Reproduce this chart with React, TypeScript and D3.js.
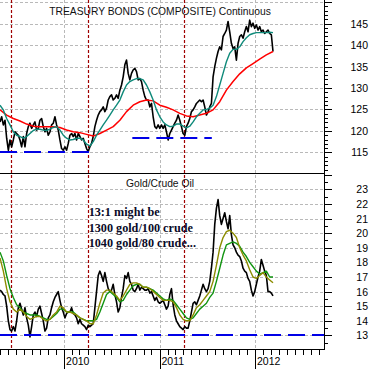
import * as d3 from 'd3';
import React, { useEffect, useRef } from 'react';

// readings, evenly spaced between these two dates
const sampleStart = '2009-05-01';
const sampleEnd = '2012-03-10';
const axisStart = '2009-05-01';
const axisEnd = '2012-09-21';

// treasury bonds (composite) continuous
const bondPrice = [
	122.1, 123.3, 121.4, 122.5, 118.3, 115.5, 117.9, 116.3, 117.9, 119.8,
	119.4, 119.0, 117.9, 116.3, 118.7, 116.3, 119.4, 121.0, 121.8, 120.6,
	121.4, 122.1, 120.2, 120.6, 122.5, 122.9, 121.0, 119.8, 120.6, 119.0,
	119.8, 121.4, 121.8, 123.3, 121.4, 120.2, 117.9, 115.9, 115.5, 116.3,
	115.5, 117.1, 119.0, 119.4, 118.7, 119.4, 117.9, 119.4, 118.7, 117.9,
	118.3, 117.1, 115.9, 115.2, 116.3, 117.1, 118.7, 121.0, 122.5, 123.7,
	124.5, 124.9, 125.6, 124.5, 125.3, 127.2, 128.0, 128.4, 127.2, 127.6,
	128.4, 127.6, 129.5, 130.7, 132.6, 135.4, 136.5, 133.4, 131.9, 133.4,
	134.2, 134.6, 133.8, 131.9, 132.2, 131.5, 129.5, 128.0, 127.2, 127.2,
	125.6, 126.4, 123.3, 121.0, 120.6, 121.4, 120.6, 121.4, 120.6, 121.4,
	119.8, 117.9, 119.4, 120.2, 121.0, 121.8, 122.5, 123.7, 122.5, 121.0,
	119.4, 119.0, 121.0, 121.8, 122.9, 124.5, 124.9, 125.6, 126.4, 126.8,
	127.2, 126.8, 127.2, 125.6, 123.7, 124.5, 125.6, 126.4, 132.6, 135.0,
	136.9, 138.5, 139.6, 138.9, 142.0, 142.7, 143.5, 145.5, 143.1, 140.4,
	139.2, 139.6, 136.5, 140.4, 142.0, 142.4, 141.6, 143.1, 144.3, 143.1,
	145.8, 144.3, 145.1, 143.9, 144.7, 143.5, 144.3, 143.1, 143.5, 142.7,
	143.1, 143.5, 142.7, 142.4, 138.5
];
const bondFastMa = [
	126.0, 124.9, 122.9, 121.4, 119.8, 119.0, 118.7, 118.3, 118.7, 119.4,
	120.1, 120.4, 120.4, 120.2, 120.1, 120.4, 120.8, 121.0, 120.2, 119.0,
	118.3, 117.9, 118.0, 118.3, 118.3, 117.9, 116.9, 116.5, 117.5, 119.0,
	120.2, 121.4, 122.5, 123.7, 124.9, 126.0, 127.2, 129.1, 130.7, 131.5,
	131.9, 132.2, 132.2, 131.9, 130.7, 129.1, 127.2, 124.9, 123.3, 122.1,
	121.4, 121.0, 121.1, 121.6, 121.6, 121.1, 120.7, 121.1, 122.1, 123.3,
	124.1, 124.9, 125.0, 125.3, 126.0, 128.0, 130.7, 133.4, 136.1, 138.1,
	139.0, 139.0, 139.6, 140.8, 141.7, 142.4, 142.7, 142.9, 142.9, 142.9,
	142.9, 143.0, 142.9
];
const bondSlowMa = [
	124.9, 123.7, 122.9, 122.3, 121.6, 121.1, 121.0, 121.0, 121.0, 120.8,
	120.2, 119.8, 119.6, 119.2, 118.8, 119.4, 120.2, 121.0, 122.5, 124.5,
	126.0, 126.8, 127.2, 127.0, 126.0, 125.5, 124.9, 124.1, 123.5, 123.3,
	123.7, 124.1, 124.9, 126.8, 129.5, 131.5, 133.3, 134.7, 135.7, 136.7,
	137.7, 138.5
];

// gold / crude oil ratio
const ratio = [
	16.1, 16.0, 15.8, 15.7, 15.0, 14.0, 13.4, 13.3, 13.6, 13.3,
	14.0, 14.9, 15.2, 14.8, 14.4, 14.9, 14.2, 13.7, 12.9, 13.6,
	14.4, 14.6, 14.3, 14.8, 15.0, 14.5, 14.0, 13.3, 13.5, 14.2,
	14.4, 14.9, 15.3, 15.6, 15.8, 16.0, 15.4, 14.9, 14.6, 14.2,
	14.5, 14.6, 14.6, 14.9, 14.5, 14.4, 14.2, 13.8, 14.1, 13.8,
	13.7, 13.6, 13.4, 13.7, 13.6, 13.7, 13.8, 14.9, 16.0, 17.1,
	17.4, 17.1, 16.7, 17.3, 16.7, 16.2, 16.0, 16.1, 16.5, 15.8,
	15.3, 14.6, 14.9, 15.6, 16.2, 17.1, 16.9, 17.3, 16.7, 16.5,
	16.1, 16.0, 16.2, 16.5, 16.1, 16.3, 16.2, 16.1, 16.1, 16.2,
	15.9, 16.0, 15.7, 15.4, 15.6, 15.3, 15.2, 15.3, 15.4, 15.1,
	14.8, 15.0, 15.8, 16.2, 15.1, 14.4, 14.0, 13.8, 13.6, 13.5,
	13.4, 13.6, 13.5, 13.5, 14.0, 14.6, 15.2, 15.3, 15.1, 15.4,
	15.7, 16.1, 16.5, 16.2, 16.0, 16.2, 16.7, 17.6, 18.7, 20.6,
	21.7, 22.3, 21.2, 20.6, 21.0, 21.4, 20.8, 20.3, 21.2, 19.9,
	19.2, 19.0, 18.7, 18.5, 18.4, 18.1, 17.6, 17.4, 17.3, 16.9,
	16.7, 16.1, 15.7, 16.0, 16.5, 17.0, 17.4, 18.2, 17.8, 17.4,
	17.1, 16.0, 16.0, 15.9, 15.7
];
const ratioFastMa = [
	18.3, 17.4, 16.2, 15.3, 14.8, 14.6, 14.8, 14.6, 14.3, 14.1,
	14.2, 14.3, 14.3, 14.1, 14.0, 14.1, 14.4, 14.6, 15.0, 14.9,
	14.6, 14.6, 14.5, 14.4, 14.2, 14.1, 14.0, 13.8, 13.8, 14.4,
	15.2, 15.9, 16.1, 16.1, 15.9, 15.7, 15.4, 15.7, 16.1, 16.5,
	16.6, 16.6, 16.5, 16.3, 16.3, 16.2, 16.0, 15.8, 15.6, 15.4,
	15.4, 15.4, 15.3, 14.9, 14.4, 14.1, 14.0, 14.0, 14.4, 14.9,
	15.1, 15.4, 15.7, 16.0, 16.7, 17.8, 19.0, 19.7, 20.1, 20.2,
	20.0, 19.7, 19.0, 18.5, 18.1, 17.5, 17.0, 16.9, 17.1, 17.3,
	17.0, 16.8, 16.6
];
const ratioSlowMa = [
	18.7, 18.1, 17.1, 16.2, 15.6, 15.1, 14.9, 14.6, 14.5, 14.4,
	14.4, 14.4, 14.3, 14.2, 14.1, 14.1, 14.3, 14.5, 14.8, 14.8,
	14.6, 14.6, 14.6, 14.4, 14.2, 14.1, 14.0, 14.0, 14.0, 14.1,
	14.6, 15.2, 15.8, 16.0, 15.8, 15.6, 15.3, 15.4, 15.8, 16.1,
	16.4, 16.5, 16.5, 16.3, 16.3, 16.2, 16.1, 15.9, 15.7, 15.5,
	15.4, 15.5, 15.4, 15.1, 14.8, 14.5, 14.2, 14.1, 14.2, 14.5,
	14.8, 15.0, 15.2, 15.6, 15.9, 16.7, 17.6, 18.5, 19.2, 19.3,
	19.4, 19.3, 19.1, 18.7, 18.4, 18.0, 17.7, 17.4, 17.2, 17.3,
	17.4, 17.0, 17.0
];

// axis labels
const bondLabels = [115, 120, 125, 130, 135, 140, 145];
const ratioLabels = [13, 14, 15, 16, 17, 18, 19, 20, 21, 22, 23];
const yearLabels = ['2010', '2011', '2012'];

// annotations
const markerDates = ['2009-06-11', '2010-04-03', '2011-04-05'];
const bondSupports = [
	{ value: 115, from: '2009-05-01', to: '2010-04-23' },
	{ value: 118.3, from: '2010-09-19', to: '2011-07-20' }
];
const ratioSupports = [{ value: 13, from: '2009-05-01', to: '2012-09-21' }];
const noteLines = ['13:1 might be', '1300 gold/100 crude', '1040 gold/80 crude...'];

const parse = d3.timeParse('%Y-%m-%d');

const App = () => {
	const ref = useRef<SVGSVGElement>(null);

	useEffect(() => {
		const svg = d3.select(ref.current);
		svg.selectAll('*').remove();

		const W = 324;
		const sans = '"Liberation Sans", Arial, sans-serif';

		const x = d3.scaleTime()
			.domain([parse(axisStart), parse(axisEnd)])
			.range([0, W]);
		const yBond = d3.scaleLinear().domain([110.2, 150.5]).range([173, 0]);
		const yRatio = d3.scaleLinear().domain([12.07, 24.05]).range([349, 174]);

		const t0 = +parse(sampleStart);
		const t1 = +parse(sampleEnd);
		const sampled = (values: number[]) => values.map((v, i) => ({
			date: new Date(t0 + (t1 - t0) * i / (values.length - 1)),
			value: v
		}));

		// grid
		const grid = svg.append('g')
			.attr('stroke', '#b9b9b9')
			.attr('stroke-dasharray', '3,2')
			.attr('stroke-width', 1);
		grid.selectAll('.hb')
			.data(d3.range(115, 151, 5))
			.join('line')
			.attr('x1', 0).attr('x2', W)
			.attr('y1', d => Math.round(yBond(d)) + 0.5)
			.attr('y2', d => Math.round(yBond(d)) + 0.5);
		grid.selectAll('.hr')
			.data(ratioLabels)
			.join('line')
			.attr('class', 'hr')
			.attr('x1', 0).attr('x2', W)
			.attr('y1', d => Math.round(yRatio(d)) + 0.5)
			.attr('y2', d => Math.round(yRatio(d)) + 0.5);
		grid.selectAll('.vy')
			.data(yearLabels)
			.join('line')
			.attr('class', 'vy')
			.attr('x1', d => Math.round(x(parse(d + '-01-01'))) + 0.5)
			.attr('x2', d => Math.round(x(parse(d + '-01-01'))) + 0.5)
			.attr('y1', 0).attr('y2', 349);

		// red dotted markers
		svg.append('g')
			.selectAll('line')
			.data(markerDates)
			.join('line')
			.attr('x1', d => Math.round(x(parse(d))) + 0.5)
			.attr('x2', d => Math.round(x(parse(d))) + 0.5)
			.attr('y1', 0).attr('y2', 349)
			.attr('stroke', '#a00000')
			.attr('stroke-width', 1.2)
			.attr('stroke-dasharray', '3,2');

		const drawLine = (values: number[], y: any, color: string, width: number) => {
			const line = d3.line<{ date: Date, value: number }>()
				.x(d => x(d.date))
				.y(d => y(d.value));
			svg.append('path')
				.datum(sampled(values))
				.attr('fill', 'none')
				.attr('stroke', color)
				.attr('stroke-width', width)
				.attr('stroke-linejoin', 'round')
				.attr('d', line);
		};

		drawLine(bondPrice, yBond, '#000000', 1.6);
		drawLine(bondSlowMa, yBond, '#ff0000', 1.5);
		drawLine(bondFastMa, yBond, '#0f8a7a', 1.4);

		drawLine(ratio, yRatio, '#000000', 1.6);
		drawLine(ratioSlowMa, yRatio, '#109410', 1.4);
		drawLine(ratioFastMa, yRatio, '#8c8c00', 1.4);

		// blue dashed support lines
		const supports = [
			...bondSupports.map(s => ({ ...s, y: yBond })),
			...ratioSupports.map(s => ({ ...s, y: yRatio }))
		];
		svg.append('g')
			.selectAll('line')
			.data(supports)
			.join('line')
			.attr('x1', d => x(parse(d.from)))
			.attr('x2', d => x(parse(d.to)))
			.attr('y1', d => Math.round(d.y(d.value)))
			.attr('y2', d => Math.round(d.y(d.value)))
			.attr('stroke', '#0000e6')
			.attr('stroke-width', 2)
			.attr('stroke-dasharray', '17,7');

		// frame
		const frame = svg.append('g').attr('stroke', '#000').attr('stroke-width', 1);
		frame.append('line').attr('x1', W + 0.5).attr('x2', W + 0.5).attr('y1', 0).attr('y2', 350);
		frame.append('line').attr('x1', 0).attr('x2', W).attr('y1', 173.5).attr('y2', 173.5);
		frame.append('line').attr('x1', 0).attr('x2', W).attr('y1', 349.5).attr('y2', 349.5);

		// right axis ticks
		const ticks = svg.append('g').attr('stroke', '#000').attr('stroke-width', 1);
		ticks.selectAll('.tb')
			.data(d3.range(111, 151))
			.join('line')
			.attr('class', 'tb')
			.attr('x1', W)
			.attr('x2', d => W + (d % 5 === 0 ? 8 : 4))
			.attr('y1', d => Math.round(yBond(d)) + 0.5)
			.attr('y2', d => Math.round(yBond(d)) + 0.5);
		ticks.selectAll('.tr')
			.data(d3.range(12.5, 24.01, 0.5))
			.join('line')
			.attr('class', 'tr')
			.attr('x1', W)
			.attr('x2', d => W + (Number.isInteger(d) ? 8 : 4))
			.attr('y1', d => Math.round(yRatio(d)) + 0.5)
			.attr('y2', d => Math.round(yRatio(d)) + 0.5);

		// bottom time axis
		ticks.selectAll('.tm')
			.data(d3.timeMonth.range(x.domain()[0], x.domain()[1]))
			.join('line')
			.attr('class', 'tm')
			.attr('x1', d => Math.round(x(d)) + 0.5)
			.attr('x2', d => Math.round(x(d)) + 0.5)
			.attr('y1', 349)
			.attr('y2', d => d.getMonth() === 0 ? 369 : 355);

		svg.append('g')
			.selectAll('text')
			.data(yearLabels)
			.join('text')
			.attr('x', d => x(parse(d + '-01-01')) + 2)
			.attr('y', 365)
			.style('font-family', sans)
			.style('font-size', '10.5px')
			.text(d => d);

		const labels = svg.append('g')
			.style('font-family', sans)
			.style('font-size', '10.5px')
			.attr('text-anchor', 'end');
		labels.selectAll('.lb')
			.data(bondLabels)
			.join('text')
			.attr('class', 'lb')
			.attr('x', 368)
			.attr('y', d => yBond(d) + 4)
			.text(d => d);
		labels.selectAll('.lr')
			.data(ratioLabels)
			.join('text')
			.attr('class', 'lr')
			.attr('x', 368)
			.attr('y', d => yRatio(d) + 4)
			.text(d => d);

		// titles
		svg.append('text')
			.attr('x', 160)
			.attr('y', 15)
			.attr('text-anchor', 'middle')
			.style('font-family', sans)
			.style('font-size', '10.3px')
			.attr('fill', '#111')
			.text('TREASURY BONDS (COMPOSITE) Continuous');
		svg.append('text')
			.attr('x', 160)
			.attr('y', 187)
			.attr('text-anchor', 'middle')
			.style('font-family', sans)
			.style('font-size', '10.3px')
			.attr('fill', '#111')
			.text('Gold/Crude Oil');

		// note
		svg.append('g')
			.selectAll('text')
			.data(noteLines)
			.join('text')
			.attr('x', x(parse(markerDates[1])) + 0.5)
			.attr('y', (d, i) => 216 + i * 15.5)
			.style('font-family', '"Liberation Serif", "Times New Roman", serif')
			.style('font-weight', 'bold')
			.style('font-size', '12.2px')
			.attr('fill', '#0a0a28')
			.text(d => d);
	}, []);

	return (
		<svg
			ref={ref}
			width={372}
			height={369}
			style={{ position: 'absolute', left: 0, top: 0, background: '#fff' }}
		/>
	);
};

export default App;
